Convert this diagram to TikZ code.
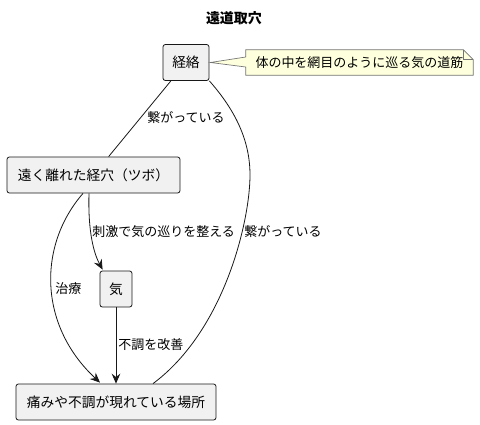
\documentclass[tikz,border=0pt]{standalone}
\usepackage{fontspec}
\setmainfont{Noto Sans CJK JP}
\usetikzlibrary{arrows.meta,calc}
\definecolor{boxfill}{HTML}{F1F1F1}
\definecolor{lineclr}{HTML}{181818}
\definecolor{notefill}{HTML}{FEFFDD}
\tikzset{
  box/.style={draw=lineclr, fill=boxfill, rounded corners=1.8pt, line width=0.6pt, inner sep=0pt, minimum height=27pt, font=\fontsize{10.3pt}{12pt}\selectfont, text=black},
  lbl/.style={anchor=west, inner sep=0pt, font=\fontsize{9.75pt}{11pt}\selectfont, text=black},
  conn/.style={draw=lineclr, line width=0.6pt},
  arr/.style={conn, -{Stealth[length=7.5pt,width=6.5pt,inset=2.6pt]}},
  notebody/.style={draw=lineclr!60, fill=notefill, line width=0.5pt}
}
\begin{document}
\begin{tikzpicture}[x=0.75pt,y=-0.75pt]
\useasboundingbox (0,0) rectangle (480,425);
\node[inner sep=0pt, font=\fontsize{10.5pt}{12pt}\selectfont\bfseries] (title) at (234,18) {遠道取穴};
\node[box, minimum width=34.5pt] (k) at (186,62.5) {経絡};
\node[box, minimum width=129.75pt] (t) at (93.5,175) {遠く離れた経穴（ツボ）};
\node[box, minimum width=24pt] (q) at (116,289) {気};
\node[box, minimum width=150pt] (p) at (116,402) {痛みや不調が現れている場所};
% note
\node[minimum width=170.25pt, minimum height=18.75pt, inner sep=0pt] (n) at (359.5,62.5) {};
\path[notebody] (n.north west) -- ($(n.north east)+(-10,0)$) -- ($(n.north east)+(0,10)$) -- (n.south east) -- (n.south west) -- ($(n.west)+(0,4.5)$) -- ($(k.east)+(1,0)$) -- ($(n.west)+(0,-5.5)$) -- cycle;
\draw[draw=lineclr!60, line width=0.5pt] ($(n.north east)+(-10,0)$) -- ($(n.north east)+(-10,10)$) -- ($(n.north east)+(0,10)$);
\node[inner sep=0pt, font=\fontsize{9.75pt}{11pt}\selectfont] (nt) at (n.center) {体の中を網目のように巡る気の道筋};
% connectors
\draw[conn] (k) -- (t);
\draw[conn] (k.south east) .. controls (235,110) and (250,140) .. (250,175) .. controls (250,220) and (225,330) .. ($(p.north)+(37,0)$);
\draw[arr] ($(t.south)+(-4.5,0)$) .. controls (88,225) and (92,250) .. ($(q.north west)+(3,-1)$);
\draw[arr] ($(t.south)+(-10.5,0)$) .. controls (38,245) and (38,325) .. ($(p.north)+(-16,-1)$);
\draw[arr] (q) -- (p);
% labels
\node[lbl] (l1) at (147,118) {繋がっている};
\node[lbl] (l2) at (244,232) {繋がっている};
\node[lbl] (l3) at (92,232) {刺激で気の巡りを整える};
\node[lbl] (l4) at (55,289) {治療};
\node[lbl] (l5) at (118,345) {不調を改善};
\end{tikzpicture}
\end{document}
